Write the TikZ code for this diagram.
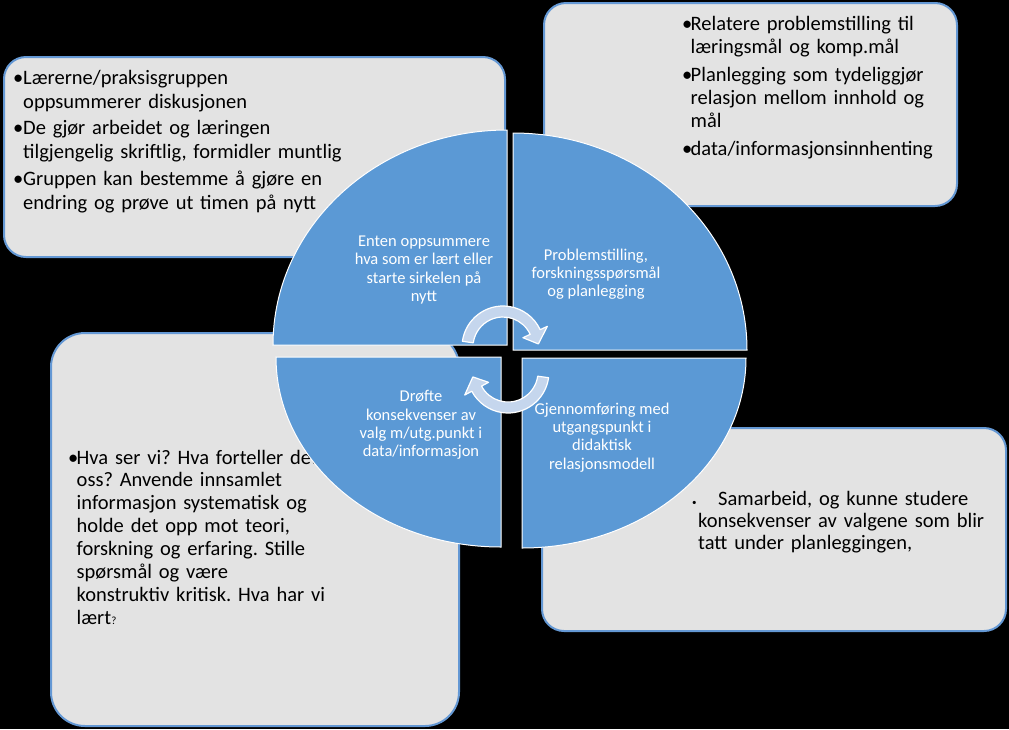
\documentclass[tikz,border=0pt]{standalone}
\usepackage{fontspec}
\setmainfont{Carlito}
\frenchspacing
\definecolor{boxfill}{RGB}{227,227,227}
\definecolor{boxline}{RGB}{100,152,212}
\definecolor{quadfill}{RGB}{91,153,213}
\definecolor{arrowfill}{RGB}{197,214,237}
\newcommand{\bulletpara}[2]{\noindent\hangindent=#1\hangafter=1\makebox[#1][l]{•}#2\par}
\tikzset{
  infobox/.style={fill=boxfill, draw=boxline, line width=2pt, inner sep=0pt},
  quad/.style={fill=quadfill, draw=white, line width=1pt},
  cyclearrow/.style={fill=arrowfill, draw=white, line width=1.2pt, line join=round},
  boxtext/.style={anchor=base west, inner sep=0pt, align=left, text=black},
  quadtext/.style={inner sep=0pt, align=center, text=white, font=\fontsize{16.5}{18.3}\selectfont},
}
\begin{document}
\begin{tikzpicture}[x=1pt,y=-1pt]
\fill[black] (0,0) rectangle (1009,729);
\useasboundingbox (0,0) rectangle (1009,729);

% boxes
\node[infobox, minimum width=501pt, minimum height=200pt, rounded corners=22pt] (boxTL) at (254.5,157) {};
\node[infobox, minimum width=413pt, minimum height=203pt, rounded corners=22pt] (boxTR) at (750.5,104.5) {};
\node[infobox, minimum width=408pt, minimum height=393pt, rounded corners=34pt] (boxBL) at (255,529.5) {};
\node[infobox, minimum width=464pt, minimum height=203pt, rounded corners=22pt] (boxBR) at (774,529.5) {};

% box texts
\node[boxtext, text width=480pt, font=\fontsize{20.5}{24}\selectfont] (txtTL) at (13,84) {%
\setlength{\parskip}{2.5pt}%
\bulletpara{10pt}{Lærerne/praksisgruppen\newline oppsummerer diskusjonen}%
\bulletpara{10pt}{De gjør arbeidet og læringen\newline tilgjengelig skriftlig, formidler muntlig}%
\bulletpara{10pt}{Gruppen kan bestemme å gjøre en\newline endring og prøve ut timen på nytt}};

\node[boxtext, text width=270pt, font=\fontsize{20.5}{23}\selectfont] (txtTR) at (682,30) {%
\setlength{\parskip}{5pt}%
\bulletpara{8.5pt}{Relatere problemstilling til\newline læringsmål og komp.mål}%
\bulletpara{8.5pt}{Planlegging som tydeliggjør\newline relasjon mellom innhold og\newline mål}%
\bulletpara{8.5pt}{data/informasjonsinnhenting}};

\node[boxtext, text width=380pt, font=\fontsize{20.5}{22.9}\selectfont] (txtBL) at (68,464) {%
\bulletpara{8.5pt}{Hva ser vi? Hva forteller det\newline oss? Anvende innsamlet\newline informasjon systematisk og\newline holde det opp mot teori,\newline forskning og erfaring. Stille\newline spørsmål og være\newline konstruktiv kritisk. Hva har vi\newline lært{\fontsize{11}{11}\selectfont ?}}};

\node[boxtext, text width=300pt, font=\fontsize{20.5}{22}\selectfont] (txtBR) at (698,505) {%
\hspace*{-6pt}\makebox[26pt][l]{\fontsize{9}{9}\selectfont •}Samarbeid, og kunne studere\newline konsekvenser av valgene som blir\newline tatt under planleggingen,};

% quadrants
\path[quad] (507,345) -- (273,345) arc[start angle=180, end angle=270, x radius=234, y radius=215] -- cycle;
\path[quad] (513,350) -- (513,133) arc[start angle=270, end angle=360, x radius=234, y radius=217] -- cycle;
\path[quad] (501,357) -- (501,547) arc[start angle=90, end angle=180, x radius=225, y radius=190] -- cycle;
\path[quad] (522,358) -- (746,358) arc[start angle=0, end angle=90, x radius=224, y radius=190] -- cycle;

% quadrant texts
\node[quadtext] (qTL) at (424,270) {Enten oppsummere\\hva som er lært eller\\starte sirkelen på\\nytt};
\node[quadtext] (qTR) at (596,274) {Problemstilling,\\forskningsspørsmål\\og planlegging};
\node[quadtext] (qBL) at (421,425) {Drøfte\\konsekvenser av\\valg m/utg.punkt i\\data/informasjon};
\node[quadtext] (qBR) at (602,437.5) {Gjennomføring med\\utgangspunkt i\\didaktisk\\relasjonsmodell};

% cycle arrows
\begin{scope}[shift={(503,347)}]
\path[cyclearrow] (188:41) arc[start angle=188, end angle=335, radius=41] -- (335:49) -- (355:35.5) -- (335:22) -- (335:30) arc[start angle=335, end angle=188, radius=30] -- cycle;
\end{scope}
\begin{scope}[shift={(508,372)}]
\path[cyclearrow] (8:41) arc[start angle=8, end angle=152, radius=41] -- (152:49) -- (172:35.5) -- (152:22) -- (152:30) arc[start angle=152, end angle=8, radius=30] -- cycle;
\end{scope}
\end{tikzpicture}
\end{document}
